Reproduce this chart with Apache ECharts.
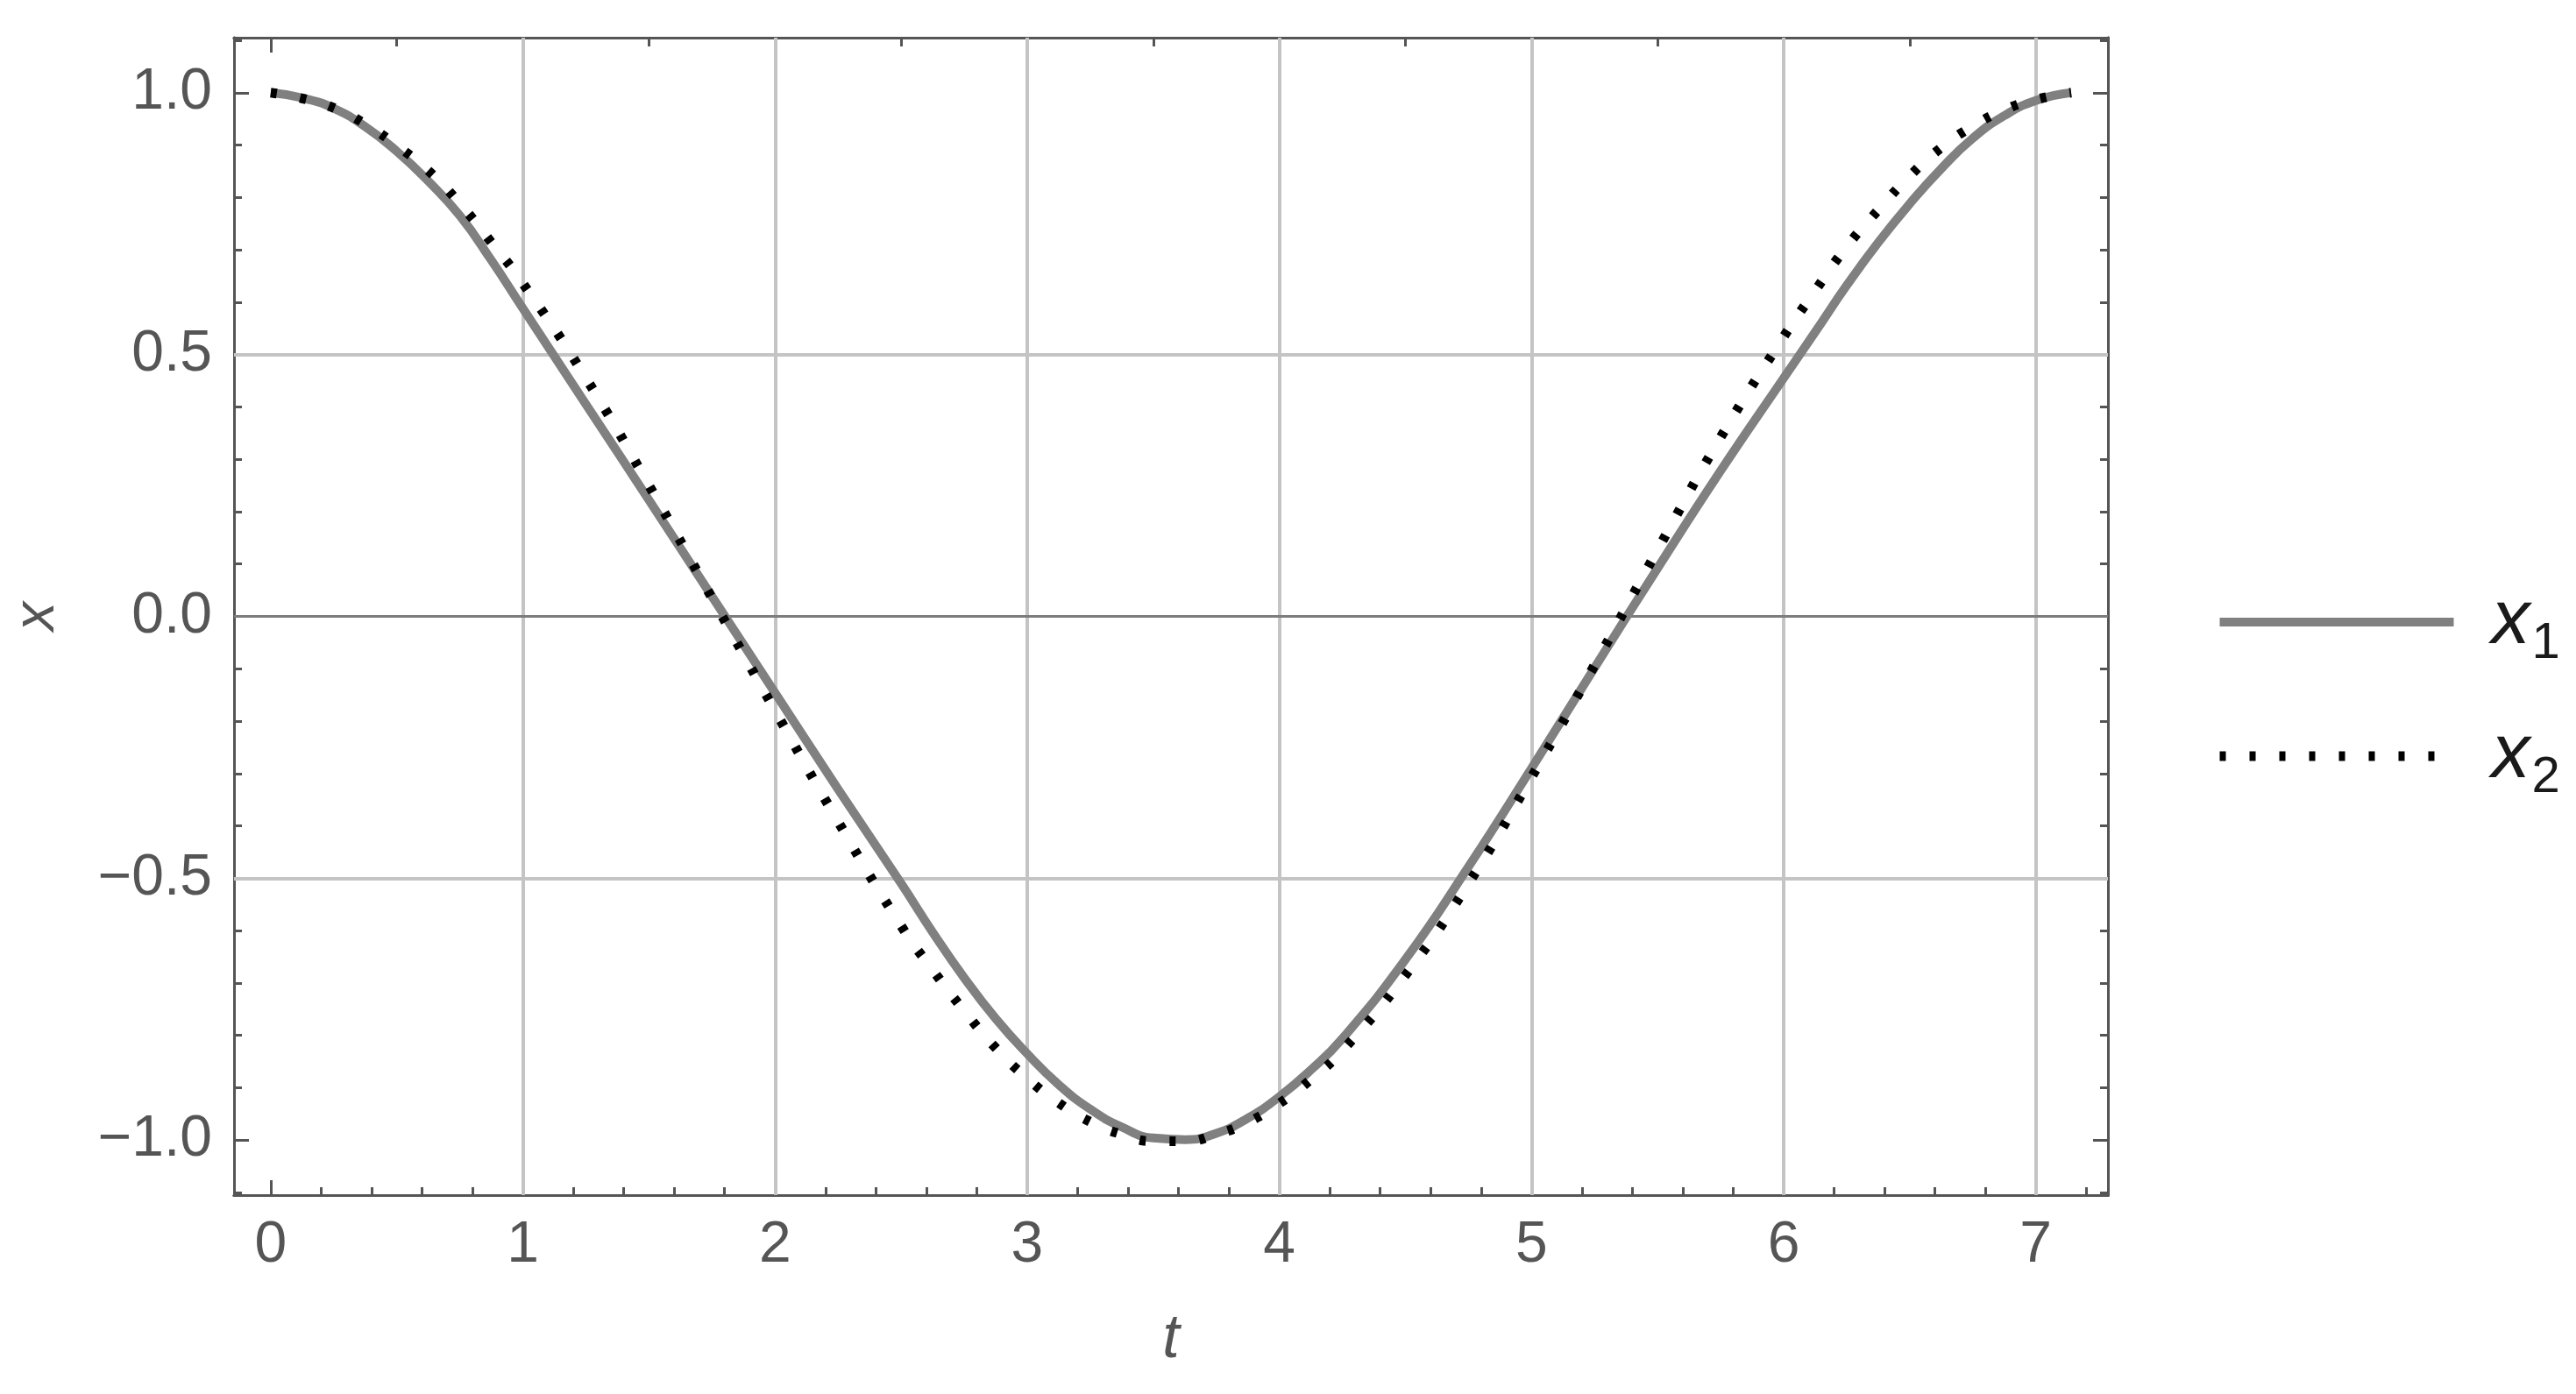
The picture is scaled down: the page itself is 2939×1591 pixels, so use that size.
<!DOCTYPE html>
<html>
<head>
<meta charset="utf-8">
<script src="https://cdn.jsdelivr.net/npm/echarts@6/dist/echarts.min.js"></script>
<style>
  html, body { margin: 0; padding: 0; background: #fff; }
  #chart { width: 2939px; height: 1591px; }
</style>
</head>
<body>
<div id="chart"></div>
<script>
// values (denser where the curves bend)
const tValues = [0, 0.125, 0.25, 0.375, 0.5, 0.625, 0.75, 0.875, 1, 1.25, 1.5, 1.75, 2, 2.25,
  2.5, 2.625, 2.75, 2.875, 3, 3.125, 3.25, 3.375, 3.5, 3.625, 3.75, 3.875, 4, 4.125, 4.25,
  4.5, 4.75, 5, 5.25, 5.5, 5.75, 6, 6.125, 6.25, 6.375, 6.5, 6.625, 6.75, 6.875, 7, 7.14]
const x1Values = [1.0, 0.990, 0.970, 0.935, 0.888, 0.831, 0.765, 0.680, 0.588, 0.405, 0.222,
  0.038, -0.146, -0.330, -0.510, -0.603, -0.690, -0.768, -0.835, -0.894, -0.941, -0.975,
  -0.996, -0.999, -0.987, -0.958, -0.917, -0.866, -0.806, -0.655, -0.478, -0.290, -0.098,
  0.092, 0.278, 0.455, 0.543, 0.632, 0.714, 0.788, 0.855, 0.913, 0.956, 0.985, 1.0]
const x2Values = [1.0, 0.989, 0.971, 0.940, 0.899, 0.851, 0.788, 0.714, 0.636, 0.455, 0.250,
  0.035, -0.180, -0.392, -0.591, -0.675, -0.753, -0.824, -0.882, -0.929, -0.965, -0.989,
  -1.002, -1.002, -0.989, -0.966, -0.930, -0.884, -0.829, -0.685, -0.510, -0.307, -0.093,
  0.127, 0.342, 0.534, 0.622, 0.706, 0.776, 0.841, 0.895, 0.936, 0.967, 0.987, 1.0]
const seriesNames = ['x1', 'x2']

// axes
const tRange = [-0.1456, 7.286]
const xRange = [-1.105, 1.105]
const tMajorTicks = [0, 1, 2, 3, 4, 5, 6, 7]
const tMinorTicks = [0.2, 0.4, 0.6, 0.8, 1.2, 1.4, 1.6, 1.8, 2.2, 2.4, 2.6, 2.8, 3.2, 3.4, 3.6, 3.8,
  4.2, 4.4, 4.6, 4.8, 5.2, 5.4, 5.6, 5.8, 6.2, 6.4, 6.6, 6.8, 7.2]
const tTopMinorTicks = [0.5, 1.5, 2.5, 3.5, 4.5, 5.5, 6.5]
const xMajorTicks = [-1, -0.5, 0, 0.5, 1]
const xMinorTicks = [-1.1, -0.9, -0.8, -0.7, -0.6, -0.4, -0.3, -0.2, -0.1,
  0.1, 0.2, 0.3, 0.4, 0.6, 0.7, 0.8, 0.9, 1.1]
const tGridLines = [1, 2, 3, 4, 5, 6, 7]
const xGridLines = [-0.5, 0.5]

const FONT = "'Liberation Sans', Arial, sans-serif"
const FRAME = '#555'

function tAxis(position, ticks, len, labels) {
  return {
    type: 'value', position, min: tRange[0], max: tRange[1],
    axisLine: { show: true, onZero: false, lineStyle: { color: FRAME, width: 3 } },
    axisTick: { show: true, inside: true, length: len, customValues: ticks,
      lineStyle: { color: FRAME, width: 3 } },
    axisLabel: labels
      ? { show: true, customValues: ticks, margin: 25, fontSize: 66, color: '#555',
          fontFamily: FONT, formatter: v => String(v) }
      : { show: false },
    splitLine: { show: false },
  }
}

function xAxis(position, ticks, len, labels) {
  return {
    type: 'value', position, min: xRange[0], max: xRange[1],
    axisLine: { show: true, onZero: false, lineStyle: { color: FRAME, width: 3 } },
    axisTick: { show: true, inside: true, length: len, customValues: ticks,
      lineStyle: { color: FRAME, width: 3 } },
    axisLabel: labels
      ? { show: true, customValues: ticks, margin: 25, fontSize: 66, color: '#555',
          fontFamily: FONT, formatter: v => (v < 0 ? '\u2212' : '') + Math.abs(v).toFixed(1) }
      : { show: false },
    splitLine: { show: false },
  }
}

const xAxes = [
  tAxis('bottom', tMajorTicks, 17, true),
  tAxis('bottom', tMinorTicks, 9, false),
  tAxis('top', tMajorTicks, 17, false),
  tAxis('top', tTopMinorTicks, 10, false),
]
Object.assign(xAxes[0], {
  name: 't', nameLocation: 'middle', nameGap: 131,
  nameTextStyle: { fontSize: 70, fontStyle: 'italic', color: '#555', fontFamily: FONT },
})

const yAxes = [
  xAxis('left', xMajorTicks, 17, true),
  xAxis('left', xMinorTicks, 9, false),
  xAxis('right', xMajorTicks, 17, false),
  xAxis('right', xMinorTicks, 9, false),
]
Object.assign(yAxes[0], {
  name: 'x', nameLocation: 'middle', nameGap: 191,
  nameTextStyle: { fontSize: 66, fontStyle: 'italic', color: '#555', fontFamily: FONT },
})

const gridLineData = [
  ...tGridLines.map(v => ({ xAxis: v, lineStyle: { color: '#c4c4c4', width: 4, type: 'solid' } })),
  ...xGridLines.map(v => ({ yAxis: v, lineStyle: { color: '#c4c4c4', width: 4, type: 'solid' } })),
  { yAxis: 0, lineStyle: { color: '#7c7c7c', width: 3, type: 'solid' } },
]

const chart = echarts.init(document.getElementById('chart'))
chart.setOption({
  animation: false,
  backgroundColor: '#fff',
  grid: { left: 267, top: 43, width: 2138, height: 1321, containLabel: false },
  xAxis: xAxes,
  yAxis: yAxes,
  legend: {
    orient: 'vertical', left: 2527, top: 666, padding: 0,
    itemWidth: 267, itemHeight: 14, itemGap: 55,
    data: seriesNames,
    lineStyle: { width: 'inherit' },
    itemStyle: { color: 'rgba(0,0,0,0)', borderWidth: 0 },
    formatter: name => '{i|x}{s|' + name.slice(1) + '}',
    textStyle: {
      rich: {
        i: { fontSize: 88, fontStyle: 'italic', color: '#1a1a1a', fontFamily: FONT,
          verticalAlign: 'top', lineHeight: 88, padding: [0, 0, 0, 38] },
        s: { fontSize: 58, color: '#1a1a1a', fontFamily: FONT,
          verticalAlign: 'top', lineHeight: 58, padding: [40, 0, 0, 2] },
      },
    },
  },
  series: [
    {
      name: seriesNames[0], type: 'line', xAxisIndex: 0, yAxisIndex: 0,
      data: tValues.map((t, i) => [t, x1Values[i]]),
      smooth: true, symbol: 'none', z: 3,
      lineStyle: { color: '#808080', width: 10 },
      itemStyle: { color: '#808080' },
      markLine: {
        silent: true, symbol: 'none', z: 1, label: { show: false },
        emphasis: { disabled: true },
        data: gridLineData,
      },
    },
    {
      name: seriesNames[1], type: 'line', xAxisIndex: 0, yAxisIndex: 0,
      data: tValues.map((t, i) => [t, x2Values[i]]),
      smooth: true, symbol: 'none', z: 4,
      lineStyle: { color: '#000', width: 11, type: [7, 27], cap: 'butt' },
      itemStyle: { color: '#000' },
    },
  ],
})
</script>
</body>
</html>
